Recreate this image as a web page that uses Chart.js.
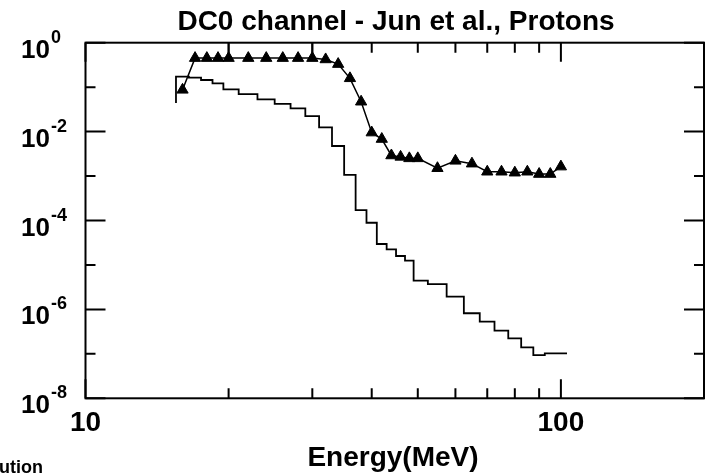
<!DOCTYPE html>
<html>
<head>
<meta charset="utf-8">
<script src="https://cdn.jsdelivr.net/npm/chart.js@4.4.1/dist/chart.umd.min.js"></script>
<style>
html,body{margin:0;padding:0;background:#fff;overflow:hidden;}
#wrap{width:706px;height:475px;position:relative;overflow:hidden;}
canvas{display:block;}
</style>
</head>
<body>
<div id="wrap"><canvas id="c" width="706" height="475"></canvas></div>
<script>
// ---- data ----
const titleText = "DC0 channel - Jun et al., Protons";
const xAxisTitle = "Energy(MeV)";
const cutText = "ution";
const energies = [16,17,18,19,20,22,24,26,28,30,32,34,36,38,40,42,44,46,48,50,55,60,65,70,75,80,85,90,95,100];
const junValues = [0.087,0.45,0.45,0.45,0.45,0.45,0.45,0.45,0.45,0.45,0.42,0.33,0.158,0.047,0.0095,0.0068,0.0029,0.0027,0.0025,0.0025,0.0015,0.0022,0.0019,0.00125,0.00125,0.00119,0.00125,0.00111,0.00111,0.00163];
const binEdges = [15.5,16.5,17.5,18.5,19.5,21,23,25,27,29,31,33,35,37,39,41,43,45,47,49,52.5,57.5,62.5,67.5,72.5,77.5,82.5,87.5,92.5,97.5,103];
const histValues = [0.044,0.172,0.163,0.145,0.122,0.089,0.070,0.053,0.042,0.0334,0.0224,0.0125,0.00474,0.00106,1.72e-4,8.9e-5,2.96e-5,2.25e-5,1.59e-5,1.25e-5,4.42e-6,3.7e-6,1.93e-6,8.2e-7,5.29e-7,3.32e-7,2.24e-7,1.40e-7,9.4e-8,1.03e-7];
const errorBarX = [20,30];
const errorBarTop = 2;
const xMajorTicks = [10,100];
const xMinorTicks = [20,30,40,50,60,70,80,90];
const xTickLabels = ["10","100"];
const yMajorExps = [0,-2,-4,-6,-8];
const yMinorExps = [-1,-3,-5,-7];

// ---- build datasets ----
const junData = energies.map((e,i)=>({x:e,y:junValues[i]}));
const histData = binEdges.map((e,i)=>({x:e,y:histValues[Math.min(i,histValues.length-1)]}));
const errData = [];
errorBarX.forEach((e)=>{
  const idx = energies.indexOf(e);
  errData.push({x:e,y:junValues[idx]});
  errData.push({x:e,y:errorBarTop});
  errData.push({x:e,y:null});
});

const decorPlugin = {
  id:'decor',
  afterDraw(chart){
    const ctx = chart.ctx;
    const xs = chart.scales.x, ys = chart.scales.y;
    const a = chart.chartArea;
    ctx.save();
    ctx.strokeStyle = '#000';
    ctx.lineWidth = 2;
    ctx.strokeRect(a.left, a.top, a.right-a.left, a.bottom-a.top);
    ctx.beginPath();
    xMajorTicks.forEach(v=>{
      const px = xs.getPixelForValue(v);
      ctx.moveTo(px,a.bottom); ctx.lineTo(px,a.bottom-19);
      ctx.moveTo(px,a.top); ctx.lineTo(px,a.top+19);
    });
    xMinorTicks.forEach(v=>{
      const px = xs.getPixelForValue(v);
      ctx.moveTo(px,a.bottom); ctx.lineTo(px,a.bottom-10);
      ctx.moveTo(px,a.top); ctx.lineTo(px,a.top+10);
    });
    yMajorExps.forEach(e=>{
      const py = ys.getPixelForValue(Math.pow(10,e));
      ctx.moveTo(a.left,py); ctx.lineTo(a.left+20,py);
      ctx.moveTo(a.right,py); ctx.lineTo(a.right-20,py);
    });
    yMinorExps.forEach(e=>{
      const py = ys.getPixelForValue(Math.pow(10,e));
      ctx.moveTo(a.left,py); ctx.lineTo(a.left+10,py);
      ctx.moveTo(a.right,py); ctx.lineTo(a.right-10,py);
    });
    ctx.stroke();

    ctx.fillStyle = '#000';
    ctx.textBaseline = 'alphabetic';
    ctx.font = 'bold 28px "Liberation Sans", Arial, sans-serif';
    ctx.textAlign = 'center';
    ctx.fillText(titleText, 396, 30);
    xMajorTicks.forEach((v,i)=>{
      ctx.fillText(xTickLabels[i], xs.getPixelForValue(v), 431);
    });
    ctx.fillText(xAxisTitle, 393, 466);
    yMajorExps.forEach(e=>{
      const py = ys.getPixelForValue(Math.pow(10,e));
      ctx.font = 'bold 26px "Liberation Sans", Arial, sans-serif';
      ctx.textAlign = 'right';
      ctx.fillText('10', 50, py+15);
      ctx.font = 'bold 18px "Liberation Sans", Arial, sans-serif';
      ctx.textAlign = 'left';
      ctx.fillText(String(e), 51, py+0);
    });
    ctx.font = 'bold 18px "Liberation Sans", Arial, sans-serif';
    ctx.textAlign = 'left';
    ctx.fillText(cutText, -1, 473);
    ctx.restore();
  }
};

const chart = new Chart(document.getElementById('c'), {
  type:'line',
  data:{
    datasets:[
      {data:histData, stepped:'after', borderColor:'#000', borderWidth:1.8, pointRadius:0, fill:false},
      {data:errData, borderColor:'#000', borderWidth:1.8, pointRadius:0, spanGaps:false, fill:false},
      {data:junData, borderColor:'#000', borderWidth:1.5, pointStyle:'triangle', pointRadius:6.5, pointBackgroundColor:'#000', pointBorderColor:'#000', pointBorderWidth:1, tension:0, fill:false}
    ]
  },
  options:{
    responsive:false,
    animation:false,
    devicePixelRatio:1,
    layout:{autoPadding:false, padding:{left:85.5, right:2, top:42.7, bottom:76.7}},
    plugins:{legend:{display:false}, tooltip:{enabled:false}, title:{display:false}},
    scales:{
      x:{type:'logarithmic', min:10, max:200, display:false, bounds:'data'},
      y:{type:'logarithmic', min:1e-8, max:1, display:false, bounds:'data'}
    }
  },
  plugins:[decorPlugin]
});
</script>
</body>
</html>
